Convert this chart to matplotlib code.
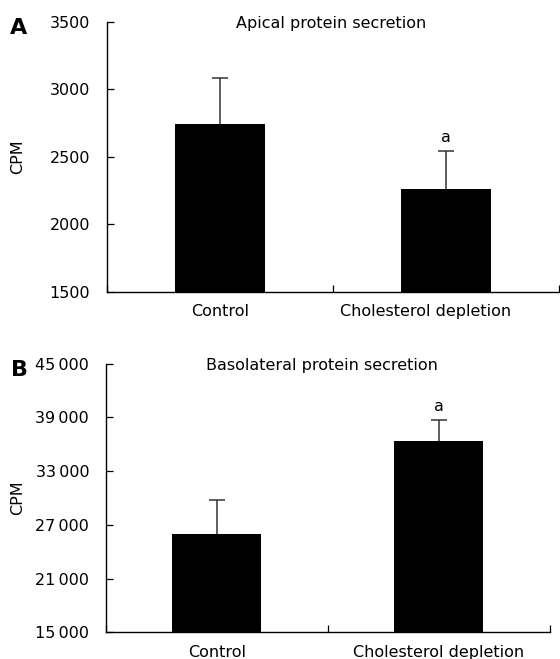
import matplotlib
matplotlib.use("Agg")
import matplotlib.pyplot as plt
from matplotlib.ticker import FuncFormatter, FixedLocator

plt.rcParams['font.family'] = ['DejaVu Sans']

# datos
groups = ['Control', 'Cholesterol depletion']
apical_mean = [2745, 2262]
apical_err = [335, 282]
apical_sig = ['', 'a']
apical_yticks = [1500, 2000, 2500, 3000, 3500]

baso_mean = [26000, 36370]
baso_err = [3770, 2340]
baso_sig = ['', 'a']
baso_yticks = [15000, 21000, 27000, 33000, 39000, 45000]

FS = 11.5

fig = plt.figure(figsize=(5.6, 6.59), dpi=100)
ax_a = fig.add_axes([0.191, 0.557, 0.807, 0.410])
ax_b = fig.add_axes([0.189, 0.0405, 0.793, 0.4076])


def draw_panel(ax, means, errs, sig, yticks, title, title_x, letter, fmt, label_pos):
    xs = list(range(len(means)))
    ax.errorbar(xs, means, yerr=errs, fmt='none', ecolor='#333333',
                elinewidth=1.1, capsize=5.5, capthick=1.1, zorder=1)
    ax.bar(xs, means, width=0.4, color='black', zorder=2)
    for x, m, e, s in zip(xs, means, errs, sig):
        if s:
            ax.annotate(s, (x, m + e), xytext=(0, 6.5), textcoords='offset points',
                        ha='center', va='baseline', fontsize=FS)

    ax.set_xlim(-0.5, 1.5)
    ax.set_ylim(yticks[0], yticks[-1])
    ax.set_yticks(yticks)
    ax.yaxis.set_major_formatter(FuncFormatter(fmt))
    ax.set_xticks(label_pos)
    ax.set_xticklabels(groups)
    ax.xaxis.set_minor_locator(FixedLocator([-0.5, 0.5, 1.5]))
    ax.tick_params(axis='x', which='major', length=0, pad=9, labelsize=FS)
    ax.tick_params(axis='x', which='minor', direction='in', length=5, width=0.9)
    ax.tick_params(axis='y', direction='in', length=5, width=0.9, pad=12, labelsize=FS)

    for side in ['top', 'right']:
        ax.spines[side].set_visible(False)
    for side in ['left', 'bottom']:
        ax.spines[side].set_linewidth(1.0)

    ax.set_ylabel('CPM', fontsize=FS)
    ax.yaxis.set_label_coords(-0.181, 0.5)
    ax.text(title_x, 0.995, title, transform=ax.transAxes, ha='center',
            va='center', fontsize=FS)
    ax.text(-0.195, 0.978, letter, transform=ax.transAxes, ha='center',
            va='center', fontsize=16, fontweight='bold')


draw_panel(ax_a, apical_mean, apical_err, apical_sig, apical_yticks,
           'Apical protein secretion', 0.496, 'A',
           lambda v, p: f'{int(v)}', [0.0, 0.91])
draw_panel(ax_b, baso_mean, baso_err, baso_sig, baso_yticks,
           'Basolateral protein secretion', 0.486, 'B',
           lambda v, p: f'{int(v) // 1000}\u2009000', [0.0, 1.0])

fig.savefig('out.png', dpi=100)
